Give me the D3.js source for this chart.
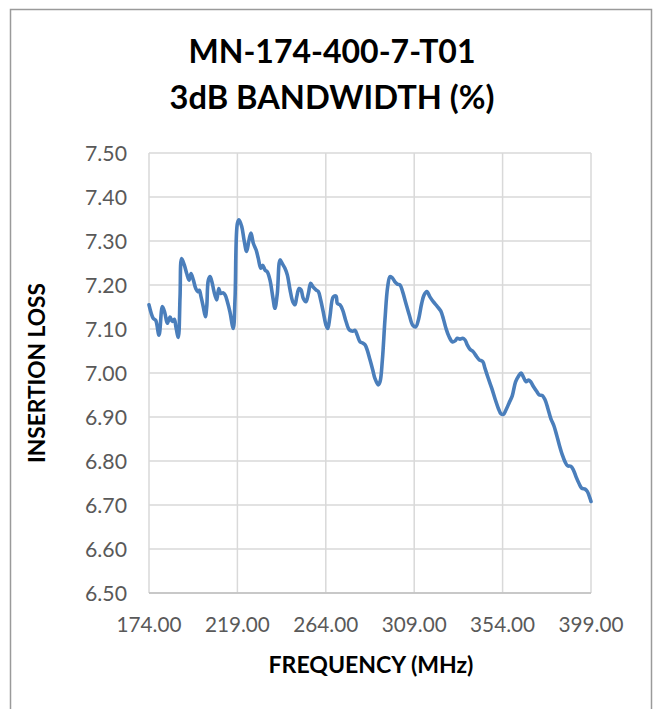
<!DOCTYPE html>
<html><head><meta charset="utf-8">
<script src="https://cdn.jsdelivr.net/npm/d3@7"></script>
<style>html,body{margin:0;padding:0;background:#fff;}svg{display:block;}</style>
</head><body>
<svg id="chart" width="660" height="709"></svg>
<script>
const titleLines = ["MN-174-400-7-T01", "3dB BANDWIDTH (%)"];
const xAxisTitle = "FREQUENCY (MHz)";
const yAxisTitle = "INSERTION LOSS";
const xTicks = [174, 219, 264, 309, 354, 399];
const yTicks = [6.5, 6.6, 6.7, 6.8, 6.9, 7.0, 7.1, 7.2, 7.3, 7.4, 7.5];

const freqs = [174.0,176.2,177.4,179.1,180.8,182.1,183.3,184.7,185.9,186.9,187.7,188.9,189.8,190.6,192.0,193.2,194.4,195.4,196.6,197.8,198.8,199.6,200.5,201.6,202.7,203.4,204.2,205.1,206.2,207.1,208.5,209.5,210.5,211.8,212.8,213.9,215.2,216.9,217.8,219.0,219.8,221.2,222.4,223.7,224.9,225.9,227.1,228.5,229.6,230.9,231.9,233.1,234.2,235.6,237.0,238.1,239.3,240.7,241.8,243.2,244.4,245.8,247.2,248.3,249.2,250.4,251.4,252.5,253.9,255.1,256.3,257.6,259.0,260.2,261.4,262.7,264.1,265.0,266.1,267.8,269.2,269.9,271.2,272.6,274.3,276.0,277.7,278.9,280.0,281.4,282.8,284.0,285.1,286.5,287.9,289.0,290.7,291.6,292.8,294.1,295.5,296.7,298.1,299.2,300.4,301.8,303.1,304.8,306.5,308.2,309.8,311.1,312.8,314.0,315.4,317.0,318.7,320.8,322.5,323.8,325.2,326.7,328.4,329.8,330.9,332.3,333.7,334.9,336.0,337.4,339.1,340.8,342.1,343.9,345.0,346.7,348.5,350.1,351.8,353.2,354.4,355.7,357.3,358.9,360.6,362.0,363.4,364.5,365.9,367.1,368.3,369.6,371.4,372.7,374.2,375.6,377.0,378.5,380.2,381.5,382.9,384.4,385.8,387.1,388.7,390.0,391.4,392.9,394.3,396.0,397.1,398.5,399.0];
const losses = [7.155,7.124,7.120,7.086,7.151,7.136,7.113,7.127,7.117,7.122,7.105,7.081,7.173,7.260,7.245,7.226,7.211,7.226,7.211,7.192,7.185,7.188,7.173,7.151,7.128,7.151,7.211,7.219,7.204,7.185,7.166,7.192,7.181,7.182,7.177,7.162,7.139,7.101,7.170,7.340,7.348,7.333,7.302,7.276,7.302,7.318,7.295,7.280,7.261,7.238,7.245,7.234,7.230,7.211,7.173,7.147,7.180,7.257,7.249,7.238,7.223,7.189,7.162,7.155,7.173,7.192,7.189,7.170,7.162,7.180,7.204,7.195,7.189,7.185,7.166,7.139,7.109,7.101,7.128,7.173,7.175,7.158,7.155,7.143,7.117,7.098,7.095,7.097,7.086,7.071,7.068,7.064,7.052,7.030,7.007,6.988,6.973,6.980,7.030,7.120,7.196,7.219,7.215,7.207,7.202,7.200,7.185,7.158,7.132,7.109,7.105,7.120,7.158,7.177,7.185,7.173,7.162,7.151,7.141,7.124,7.101,7.083,7.071,7.073,7.079,7.077,7.079,7.075,7.064,7.054,7.048,7.037,7.030,7.026,7.011,6.988,6.965,6.942,6.920,6.907,6.906,6.916,6.932,6.948,6.980,6.992,7.000,6.992,6.980,6.984,6.980,6.970,6.958,6.950,6.949,6.939,6.920,6.897,6.879,6.859,6.836,6.814,6.798,6.789,6.788,6.780,6.764,6.749,6.738,6.736,6.731,6.715,6.708];

const svg = d3.select("#chart");
const FONT = "Lato, 'Open Sans', sans-serif";
const plot = {left: 149, right: 591, top: 153, bottom: 593};

// outer chart border
svg.append("rect").attr("x", 10.5).attr("y", 9.5).attr("width", 641).attr("height", 720)
  .attr("fill", "#fff").attr("stroke", "#9a9a9a").attr("stroke-width", 1.5);

const x = d3.scaleLinear().domain([174, 399]).range([plot.left, plot.right]);
const y = d3.scaleLinear().domain([6.5, 7.5]).range([plot.bottom, plot.top]);

function fit(sel, target, base) {
  sel.style("font-size", base + "px");
  const w = sel.node().getComputedTextLength();
  const s = base * target / w;
  sel.style("font-size", s + "px");
  return s;
}

// gridlines
const g = svg.append("g");
g.selectAll("line.h").data(yTicks).join("line")
  .attr("x1", plot.left).attr("x2", plot.right)
  .attr("y1", d => y(d)).attr("y2", d => y(d))
  .attr("stroke", "#d9d9d9").attr("stroke-width", 1.5);
g.selectAll("line.v").data(xTicks).join("line")
  .attr("x1", d => x(d)).attr("x2", d => x(d))
  .attr("y1", plot.top).attr("y2", plot.bottom)
  .attr("stroke", "#d9d9d9").attr("stroke-width", 1.5);
// bottom axis line
g.append("line").attr("x1", plot.left).attr("x2", plot.right)
  .attr("y1", plot.bottom).attr("y2", plot.bottom)
  .attr("stroke", "#bfbfbf").attr("stroke-width", 1.5);

// y tick labels
const yFmt = d3.format(".2f");
const yl = svg.append("g").attr("font-family", FONT).attr("fill", "#595959");
const yLabs = yl.selectAll("text").data(yTicks).join("text")
  .attr("x", 127).attr("y", d => y(d)).attr("dy", "0.36em")
  .attr("text-anchor", "end").text(d => yFmt(d));
const ySize = fit(yLabs.filter(d => d === 7.5), 42, 22);
yLabs.style("font-size", ySize + "px");

// x tick labels
const xl = svg.append("g").attr("font-family", FONT).attr("fill", "#595959");
const xLabs = xl.selectAll("text").data(xTicks).join("text")
  .attr("x", d => x(d)).attr("y", 632)
  .attr("text-anchor", "middle").text(d => yFmt(d));
const xSize = fit(xLabs.filter(d => d === 264), 65, 22);
xLabs.style("font-size", xSize + "px");

// line
const line = d3.line().x(d => x(d[0])).y(d => y(d[1])).curve(d3.curveCatmullRom.alpha(0.5));
svg.append("path").datum(freqs.map((f, i) => [f, losses[i]]))
  .attr("d", line).attr("fill", "none").attr("stroke", "#4a7ebb")
  .attr("stroke-width", 3.6).attr("stroke-linejoin", "round").attr("stroke-linecap", "round");

// titles
const t1 = svg.append("text").attr("x", 332).attr("y", 63).attr("text-anchor", "middle")
  .attr("font-family", FONT).attr("font-weight", "bold").attr("fill", "#000").text(titleLines[0]);
fit(t1, 287, 32);
const t2 = svg.append("text").attr("x", 332).attr("y", 109).attr("text-anchor", "middle")
  .attr("font-family", FONT).attr("font-weight", "bold").attr("fill", "#000").text(titleLines[1]);
fit(t2, 325, 32);

// axis titles
const xt = svg.append("text").attr("x", 371).attr("y", 673).attr("text-anchor", "middle")
  .attr("font-family", FONT).attr("font-weight", "bold").attr("fill", "#000").text(xAxisTitle);
fit(xt, 205, 22);
const yt = svg.append("text").attr("transform", "translate(45,373) rotate(-90)")
  .attr("text-anchor", "middle")
  .attr("font-family", FONT).attr("font-weight", "bold").attr("fill", "#000").text(yAxisTitle);
fit(yt, 180, 22);
</script>
</body></html>
